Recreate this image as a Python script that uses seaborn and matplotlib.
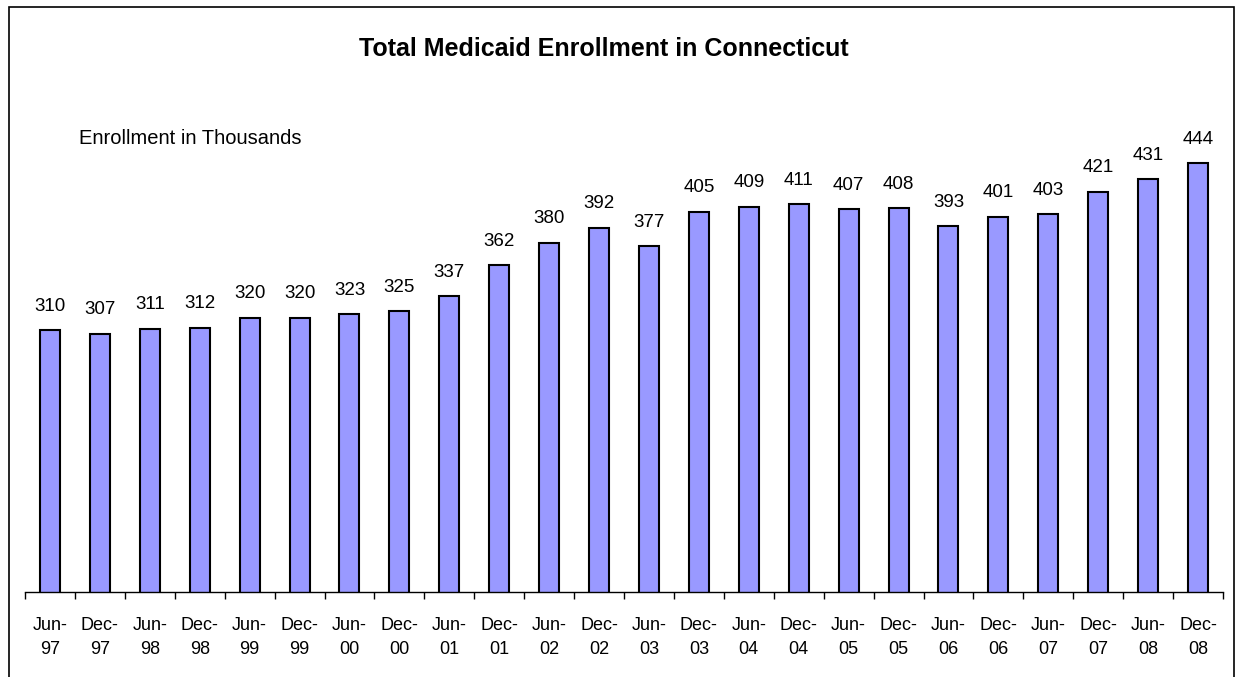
import pandas as pd
import seaborn as sns
import matplotlib.pyplot as plt
from matplotlib.patches import Rectangle
from matplotlib.ticker import FixedLocator

# -----------------------------
# Data
# -----------------------------
periods = [
    "Jun-\n97", "Dec-\n97", "Jun-\n98", "Dec-\n98", "Jun-\n99", "Dec-\n99",
    "Jun-\n00", "Dec-\n00", "Jun-\n01", "Dec-\n01", "Jun-\n02", "Dec-\n02",
    "Jun-\n03", "Dec-\n03", "Jun-\n04", "Dec-\n04", "Jun-\n05", "Dec-\n05",
    "Jun-\n06", "Dec-\n06", "Jun-\n07", "Dec-\n07", "Jun-\n08", "Dec-\n08",
]
enrollment = [
    310, 307, 311, 312, 320, 320, 323, 325, 337, 362, 380, 392,
    377, 405, 409, 411, 407, 408, 393, 401, 403, 421, 431, 444,
]

df = pd.DataFrame({"Period": periods, "Enrollment": enrollment})

sns.set_style("white")
plt.rcParams["font.family"] = ["Liberation Sans", "DejaVu Sans"]
plt.rcParams["text.color"] = "black"
plt.rcParams["xtick.color"] = "black"
plt.rcParams["xtick.labelcolor"] = "black"

fig = plt.figure(figsize=(12.38, 6.77), dpi=100)
ax = fig.add_axes([0.0202, 0.1256, 0.9677, 0.737])

# -----------------------------
# Bars
# -----------------------------
sns.barplot(
    data=df,
    x="Period",
    y="Enrollment",
    color="#9999FF",
    saturation=1,
    width=0.4,
    edgecolor="black",
    linewidth=1.5,
    ax=ax,
)

for i, v in enumerate(enrollment):
    ax.annotate(str(v), (i, v), xytext=(0, 11), textcoords="offset points",
                ha="center", va="bottom", fontsize=13.5, color="black")

ax.set_ylim(100, 500)
ax.set_xlim(-0.5, len(periods) - 0.5)
ax.set_xlabel("")
ax.set_ylabel("")
ax.set_yticks([])

for side in ["top", "left", "right"]:
    ax.spines[side].set_visible(False)
ax.spines["bottom"].set_color("black")
ax.spines["bottom"].set_linewidth(1)

# ticks sit between the categories
ax.tick_params(axis="x", which="major", length=0, labelsize=13, pad=18)
ax.xaxis.set_minor_locator(FixedLocator([i - 0.5 for i in range(len(periods) + 1)]))
ax.tick_params(axis="x", which="minor", length=5, width=1, color="black", direction="out", bottom=True)
for lbl in ax.get_xticklabels():
    lbl.set_linespacing(1.55)

# -----------------------------
# Titles and frame
# -----------------------------
fig.text(0.488, 1 - 49 / 677, "Total Medicaid Enrollment in Connecticut",
         ha="center", va="center", fontsize=18, fontweight="bold")
fig.text(79 / 1238, 1 - 138 / 677, "Enrollment in Thousands",
         ha="left", va="center", fontsize=14.5)

fig.patches.append(Rectangle((9 / 1238, -0.02), 1225 / 1238, 1.02 - 7 / 677,
                             transform=fig.transFigure, fill=False,
                             edgecolor="black", linewidth=1.2))

fig.savefig("out.png", dpi=100)
